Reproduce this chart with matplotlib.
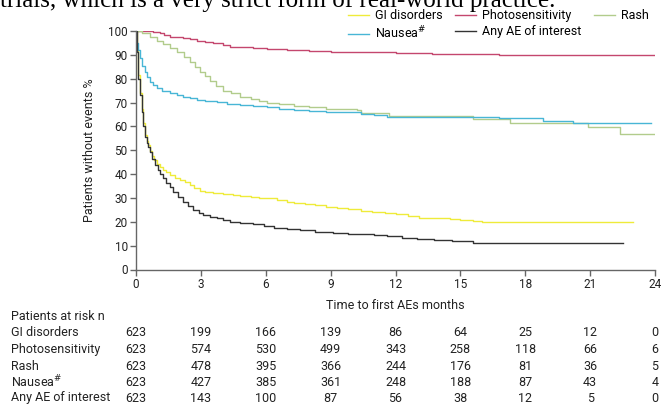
import numpy as np
import matplotlib
matplotlib.use("Agg")
import matplotlib.pyplot as plt
import matplotlib.transforms as mtransforms

plt.rcParams["font.family"] = ["Roboto", "DejaVu Sans"]

# Kaplan-Meier style curves (time in months, % without events)
gi_t = [0, 0.03, 0.11, 0.18, 0.26, 0.34, 0.42, 0.5, 0.57, 0.65, 0.73, 0.85, 0.96, 1.11,
        1.25, 1.4, 1.57, 1.8, 2.04, 2.25, 2.5, 2.7, 2.96, 3.2, 3.58, 4.0, 4.5, 4.8, 5.3,
        5.7, 6.05, 6.5, 7.0, 7.3, 7.8, 8.3, 8.8, 9.3, 9.8, 10.4, 10.9, 11.5, 12.0, 12.6,
        13.1, 13.7, 14.5, 15.0, 15.6, 16.0, 23.0]
gi_v = [100, 92, 81.5, 74, 67.5, 61.5, 56.4, 54, 52.2, 49.8, 47.6, 45.8, 44.4, 43,
        41.8, 40.7, 39.6, 38.5, 37.5, 36.5, 35.4, 34.2, 33, 32.4, 31.9, 31.6, 31.3, 31.0, 30.5,
        30.1, 29.8, 29.0, 28.3, 27.8, 27.3, 26.9, 26.3, 25.8, 25.3, 24.6, 24.0, 23.6, 23.2, 22.6,
        21.8, 21.4, 21.1, 20.7, 20.3, 20.0, 20.0]

photo_t = [0, 0.3, 0.8, 1.1, 1.3, 1.57, 1.9, 2.19, 2.5, 2.81, 3.2, 3.58, 4.0, 4.35, 4.8,
           5.4, 6.05, 7.0, 8.0, 9.0, 10.4, 12.0, 13.7, 16.8, 24.0]
photo_v = [100, 99.8, 99.5, 99.3, 98.5, 97.6, 97.4, 97.1, 96.5, 95.9, 95.3, 94.8, 94.0, 93.4,
           93.1, 92.8, 92.4, 92.1, 91.7, 91.3, 91.0, 90.8, 90.5, 90.0, 90.0]

rash_t = [0, 0.26, 0.65, 0.95, 1.26, 1.55, 1.88, 2.2, 2.5, 2.75, 2.96, 3.2, 3.43, 3.7,
          4.04, 4.4, 4.8, 5.3, 5.7, 6.05, 6.6, 7.3, 8.0, 8.8, 9.5, 10.2, 10.4, 11.7, 15.6,
          17.3, 20.9, 22.4, 24.0]
rash_v = [100, 99, 97.5, 96, 94.5, 92.8, 91, 89, 87, 85, 83, 81, 79, 77,
          75, 73.8, 72.5, 71.5, 70.6, 69.9, 69.2, 68.5, 68.0, 67.5, 67.2, 66.9, 65.5, 64.3, 63.0,
          61.5, 59.8, 56.8, 56.8]

nausea_t = [0, 0.02, 0.08, 0.19, 0.3, 0.42, 0.53, 0.65, 0.8, 0.96, 1.2, 1.57, 1.9, 2.19,
            2.5, 2.81, 3.2, 3.73, 4.2, 4.8, 5.4, 6.05, 6.6, 7.3, 8.0, 8.8, 9.5, 10.4, 11.0,
            11.6, 16.8, 18.8, 20.2, 23.8]
nausea_v = [100, 95, 92, 88.5, 85.5, 82.9, 80.6, 78.7, 77.2, 75.9, 74.8, 73.9, 73.1, 72.4,
            71.7, 71.0, 70.6, 70.1, 69.6, 68.9, 68.5, 68.1, 67.5, 66.9, 66.5, 66.2, 65.9, 65.3,
            64.7, 64.0, 63.4, 62.4, 61.3, 61.3]

anyae_t = [0, 0.03, 0.11, 0.18, 0.26, 0.34, 0.42, 0.5, 0.57, 0.65, 0.76, 0.88, 1.0, 1.13,
           1.26, 1.4, 1.57, 1.73, 1.95, 2.19, 2.4, 2.65, 2.9, 3.12, 3.4, 3.73, 4.0, 4.35, 4.8,
           5.4, 5.9, 6.36, 7.0, 7.6, 8.3, 9.1, 9.8, 10.4, 11.0, 11.6, 12.3, 13.0, 13.8, 14.6,
           15.6, 22.5]
anyae_v = [100, 91, 80, 73, 66, 60, 55.5, 53, 51.5, 49.4, 46.5, 43.8, 41.8, 40,
           38.2, 36.3, 34.6, 32.6, 30.5, 28.4, 26.6, 24.9, 23.8, 22.8, 22.0, 21.4, 20.8, 20.0, 19.7,
           19.0, 18.2, 17.2, 16.8, 16.5, 15.8, 15.3, 15.0, 14.8, 14.4, 13.9, 13.4, 12.6, 12.3, 11.8,
           11.2, 11.2]

labels = ["GI disorders", "Photosensitivity", "Rash", "Nausea$^{\\#}$", "Any AE of interest"]
colors = ["#efeb3a", "#c4476e", "#b2cc8c", "#48b6d6", "#333333"]

# Patients at risk table
risk_times = [0, 3, 6, 9, 12, 15, 18, 21, 24]
risk_gi = [623, 199, 166, 139, 86, 64, 25, 12, 0]
risk_photo = [623, 574, 530, 499, 343, 258, 118, 66, 6]
risk_rash = [623, 478, 395, 366, 244, 176, 81, 36, 5]
risk_nausea = [623, 427, 385, 361, 248, 188, 87, 43, 4]
risk_anyae = [623, 143, 100, 87, 56, 38, 12, 5, 0]

W, H = 662, 405
fig = plt.figure(figsize=(W / 100, H / 100), dpi=100)
ax = fig.add_axes([136 / W, (H - 269.5) / H, (655 - 136) / W, (269.5 - 31) / H])

series = [(gi_t, gi_v), (photo_t, photo_v), (rash_t, rash_v),
          (nausea_t, nausea_v), (anyae_t, anyae_v)]
lines = []
for (t, v), lab, c in zip(series, labels, colors):
    ln, = ax.plot(t, v, drawstyle="steps-post", color=c, linewidth=1.0, label=lab)
    lines.append(ln)

ax.set_xlim(0, 24)
ax.set_ylim(0, 100)
ax.set_xticks(risk_times)
ax.set_yticks(range(0, 101, 10))
for s in ["top", "right"]:
    ax.spines[s].set_visible(False)
for s in ["left", "bottom"]:
    ax.spines[s].set_color("#666666")
    ax.spines[s].set_linewidth(1.0)
ax.tick_params(direction="out", length=4, width=1.0, color="#666666",
               labelsize=8.5, labelcolor="#222222", pad=2)
ax.set_ylabel("Patients without events %", fontsize=9, color="#222222", labelpad=9)
ax.set_xlabel("Time to first AEs months", fontsize=9, color="#222222", labelpad=6)

# legend in the order of the picture (column-major fill)
order = [0, 3, 1, 4, 2]
fig.legend([lines[i] for i in order], [labels[i] for i in order], ncol=3,
           loc="upper left", bbox_to_anchor=(348 / W, 1 - 9 / H), frameon=False,
           fontsize=9, handlelength=1.7, handletextpad=0.45, columnspacing=1.0,
           labelspacing=0.25, borderaxespad=0, borderpad=0)

# cut-off sentence at the very top
fig.text(0.0, 1 - 7.5 / H, "trials, which is a very strict form of real-world practice.",
         family=["Liberation Serif", "DejaVu Serif"], fontsize=18, va="baseline",
         ha="left", color="black")

# risk table
trans = mtransforms.blended_transform_factory(ax.transData, fig.transFigure)
fig.text(11 / W, 1 - 316 / H, "Patients at risk n", fontsize=9, va="center", color="#222222")
rows = [("GI disorders", risk_gi), ("Photosensitivity", risk_photo), ("Rash", risk_rash),
        ("Nausea$^{\\#}$", risk_nausea), ("Any AE of interest", risk_anyae)]
row_y = [333, 349.5, 366, 382, 398]
for (name, vals), y in zip(rows, row_y):
    fig.text(11 / W, 1 - y / H, name, fontsize=9, va="center", color="#222222")
    for t, n in zip(risk_times, vals):
        ax.text(t, 1 - y / H, str(n), transform=trans, fontsize=9, ha="center",
                va="center", color="#222222")

fig.savefig("out.png", dpi=100)
